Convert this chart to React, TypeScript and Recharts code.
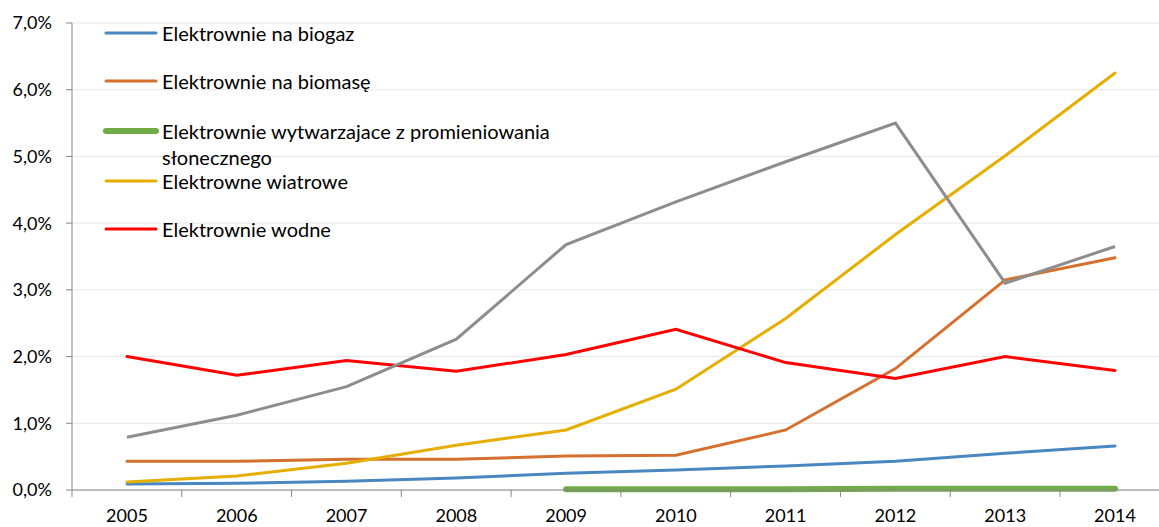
import { CartesianGrid, Legend, Line, LineChart, XAxis, YAxis } from "recharts";

const years = ["2005", "2006", "2007", "2008", "2009", "2010", "2011", "2012", "2013", "2014"];
const biogaz = [0.09, 0.1, 0.13, 0.18, 0.25, 0.3, 0.36, 0.43, 0.55, 0.66];
const biomasa = [0.43, 0.43, 0.46, 0.46, 0.51, 0.52, 0.9, 1.82, 3.15, 3.48];
const sloneczne = [null, null, null, null, 0.01, 0.01, 0.01, 0.02, 0.02, 0.02];
const wiatrowe = [0.12, 0.21, 0.4, 0.67, 0.9, 1.51, 2.57, 3.83, 5.01, 6.25];
const wodne = [2.0, 1.72, 1.94, 1.78, 2.03, 2.41, 1.91, 1.67, 2.0, 1.79];
const pozostale = [0.79, 1.12, 1.55, 2.26, 3.68, 4.32, 4.92, 5.5, 3.1, 3.65];
const yTicks = [0, 1, 2, 3, 4, 5, 6, 7];

const series = [
  { key: "biogaz", name: "Elektrownie na biogaz", color: "#4a86c0", width: 3 },
  { key: "biomasa", name: "Elektrownie na biomasę", color: "#d6702e", width: 3 },
  { key: "sloneczne", name: "Elektrownie wytwarzajace z promieniowania słonecznego", color: "#70ad47", width: 6 },
  { key: "wiatrowe", name: "Elektrowne wiatrowe", color: "#e5ae00", width: 3 },
  { key: "wodne", name: "Elektrownie wodne", color: "#ff0000", width: 3 },
];

const data = years.map((year, i) => ({
  year,
  biogaz: biogaz[i],
  biomasa: biomasa[i],
  sloneczne: sloneczne[i],
  wiatrowe: wiatrowe[i],
  wodne: wodne[i],
  pozostale: pozostale[i],
}));

const font = "Lato, 'Open Sans', sans-serif";
const HALF_BAND = 55;

function XTick(props: any) {
  const { x, y, payload } = props;
  return (
    <g>
      <line x1={x - HALF_BAND} x2={x - HALF_BAND} y1={y - 19} y2={y - 12} stroke="#868686" />
      <text x={x} y={y} dy="0.71em" textAnchor="middle" fontSize={18} fontFamily={font} fill="#000">
        {payload.value}
      </text>
    </g>
  );
}

const legendTops = [33, 81, 131, 181, 229];

function LegendBox() {
  return (
    <div style={{ position: "relative", width: 560, height: 260, fontFamily: font, fontSize: 20, color: "#000" }}>
      {series.map((s, i) => (
        <div key={s.key} style={{ position: "absolute", left: 0, top: legendTops[i] - 13, display: "flex" }}>
          <svg width={60} height={26} style={{ flex: "none" }}>
            <line x1={4} x2={54} y1={13} y2={13} stroke={s.color} strokeWidth={s.width} strokeLinecap="round" />
          </svg>
          <div style={{ lineHeight: "26px", width: 430, textAlign: "left" }}>{s.name}</div>
        </div>
      ))}
    </div>
  );
}

export default function App() {
  return (
    <div style={{ position: "fixed", left: 0, top: 0, width: 1159, height: 527, overflow: "hidden", background: "#fff" }}>
      <LineChart width={1172} height={527} data={data} margin={{ top: 23, right: 2, bottom: 0, left: 0 }}>
        <CartesianGrid vertical={false} stroke="#e6e6e6" />
        <XAxis
          dataKey="year"
          padding={{ left: HALF_BAND, right: HALF_BAND }}
          height={37}
          stroke="#868686"
          tickLine={false}
          tickSize={7}
          tickMargin={12}
          interval={0}
          tick={<XTick />}
        />
        <YAxis
          domain={[0, 7]}
          ticks={yTicks}
          width={72}
          stroke="#868686"
          tickSize={6}
          tickMargin={14}
          tick={{ fontSize: 18, fontFamily: font, fill: "#000" }}
          tickFormatter={(v) => `${Number(v).toFixed(1).replace(".", ",")}%`}
        />
        <Legend
          layout="vertical"
          align="center"
          verticalAlign="middle"
          wrapperStyle={{ position: "absolute", left: 102, top: 0, width: 560 }}
          content={() => <LegendBox />}
        />
        {series.map((s) => (
          <Line
            key={s.key}
            type="linear"
            dataKey={s.key}
            name={s.name}
            stroke={s.color}
            strokeWidth={s.width}
            strokeLinecap="round"
            dot={false}
            activeDot={false}
            isAnimationActive={false}
          />
        ))}
        <Line
          type="linear"
          dataKey="pozostale"
          stroke="#8d8d8d"
          strokeWidth={3}
          dot={false}
          activeDot={false}
          legendType="none"
          isAnimationActive={false}
        />
      </LineChart>
    </div>
  );
}
